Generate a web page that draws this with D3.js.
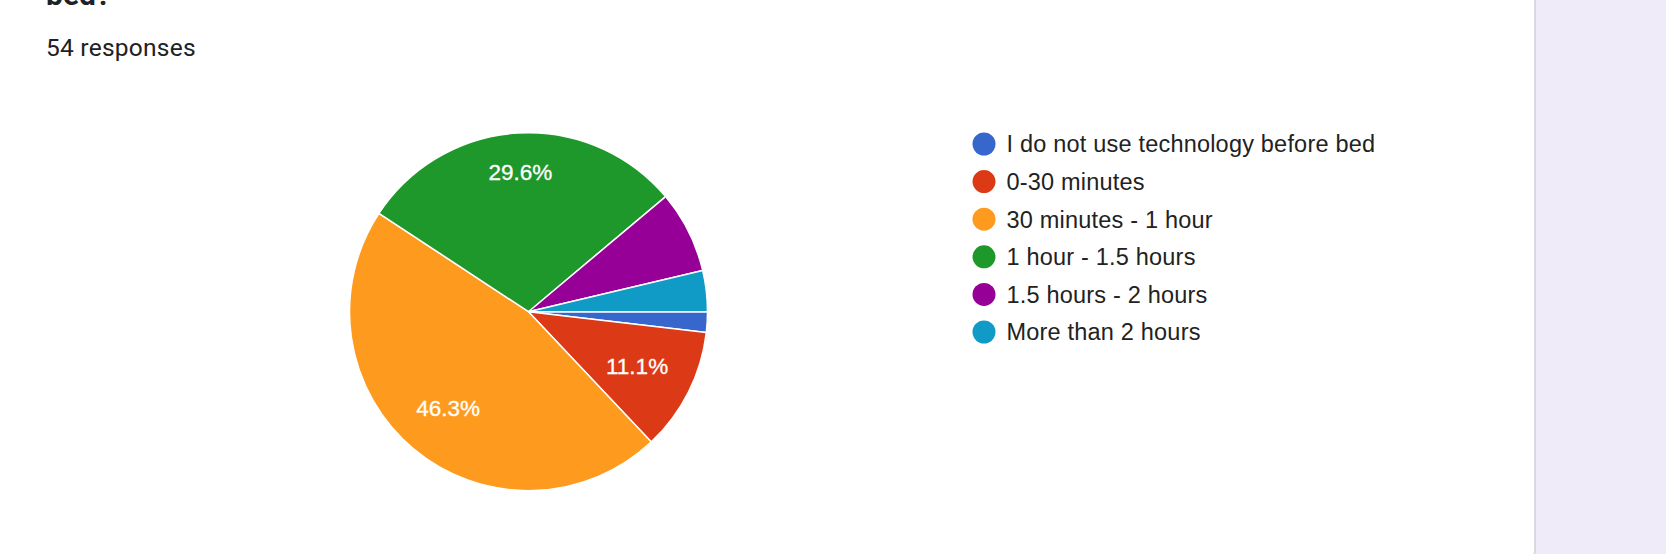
<!DOCTYPE html>
<html>
<head>
<meta charset="utf-8">
<script src="https://cdn.jsdelivr.net/npm/d3@7"></script>
<style>
  html, body { margin: 0; padding: 0; background: #f0ebf8; }
  svg { display: block; }
</style>
</head>
<body>
<svg id="chart" width="1666" height="554"></svg>
<script>
const categories = [
  "I do not use technology before bed",
  "0-30 minutes",
  "30 minutes - 1 hour",
  "1 hour - 1.5 hours",
  "1.5 hours - 2 hours",
  "More than 2 hours"
];
const counts = [1, 6, 25, 16, 4, 2];
const colors = ["#3767cc", "#dc3a16", "#fe9b1f", "#1e972b", "#970097", "#109ac6"];
const totalResponses = 54;
const titleText = "bed?";
const subtitleText = totalResponses + " responses";

const svg = d3.select("#chart");

// card
svg.append("rect").attr("x", -20).attr("y", -20).attr("width", 1555).attr("height", 574 + 5)
  .attr("rx", 8).attr("fill", "#ffffff").attr("stroke", "#dad7e0").attr("stroke-width", 2);

svg.append("text").attr("x", 46).attr("y", 4.5)
  .attr("font-family", "Roboto, sans-serif").attr("font-weight", 700).attr("font-size", 30)
  .attr("fill", "#202124").text(titleText);

svg.append("text").attr("x", 46).attr("y", 56)
  .attr("font-family", "Roboto, sans-serif").attr("font-size", 24.5).attr("letter-spacing", 0.25)
  .attr("fill", "#202124").text(subtitleText);

const cx = 528.5, cy = 311.7, R = 179;
const total = d3.sum(counts);
const pie = d3.pie().value(d => d).sort(null).startAngle(Math.PI / 2).endAngle(Math.PI / 2 + 2 * Math.PI);
const arcs = pie(counts);
const arc = d3.arc().innerRadius(0).outerRadius(R);

const g = svg.append("g").attr("transform", `translate(${cx},${cy})`);
g.selectAll("path").data(arcs).join("path")
  .attr("d", arc)
  .attr("fill", (d, i) => colors[i])
  .attr("stroke", "#ffffff").attr("stroke-width", 1.5).attr("stroke-linejoin", "round");

// labels for slices large enough
const fmt = v => (Math.round(v / total * 1000) / 10).toFixed(1) + "%";
const labelFont = 22.5;
arcs.forEach((d, i) => {
  const frac = counts[i] / total;
  if (frac < 0.1) return;
  const mid = (d.startAngle + d.endAngle) / 2;
  const ux = Math.sin(mid), uy = -Math.cos(mid);
  const t = g.append("text")
    .attr("font-family", "Liberation Sans, Arial, sans-serif").attr("font-size", labelFont)
    .attr("fill", "#ffffff").attr("stroke", "#ffffff").attr("stroke-width", 0.3)
    .attr("text-anchor", "middle").text(fmt(counts[i]));
  const w = t.node().getComputedTextLength();
  const h = labelFont * 0.716;
  const sx = Math.sign(ux) * w / 2, sy = Math.sign(uy) * h / 2;
  const Rl = R * 0.855;
  const us = ux * sx + uy * sy;
  const ss = sx * sx + sy * sy;
  const k = -us + Math.sqrt(us * us - ss + Rl * Rl);
  const px = k * ux, py = k * uy;
  t.attr("x", px).attr("y", py + h / 2);
});

// legend
const legend = svg.append("g");
const lx = 984, ly0 = 144, ldy = 37.6;
categories.forEach((c, i) => {
  legend.append("circle").attr("cx", lx).attr("cy", ly0 + i * ldy).attr("r", 11.5).attr("fill", colors[i]);
  legend.append("text").attr("x", 1006.5).attr("y", ly0 + i * ldy + 8.4)
    .attr("font-family", "Liberation Sans, Arial, sans-serif").attr("font-size", 23.5)
    .attr("letter-spacing", 0.2)
    .attr("fill", "#222222").text(c);
});
</script>
</body>
</html>
